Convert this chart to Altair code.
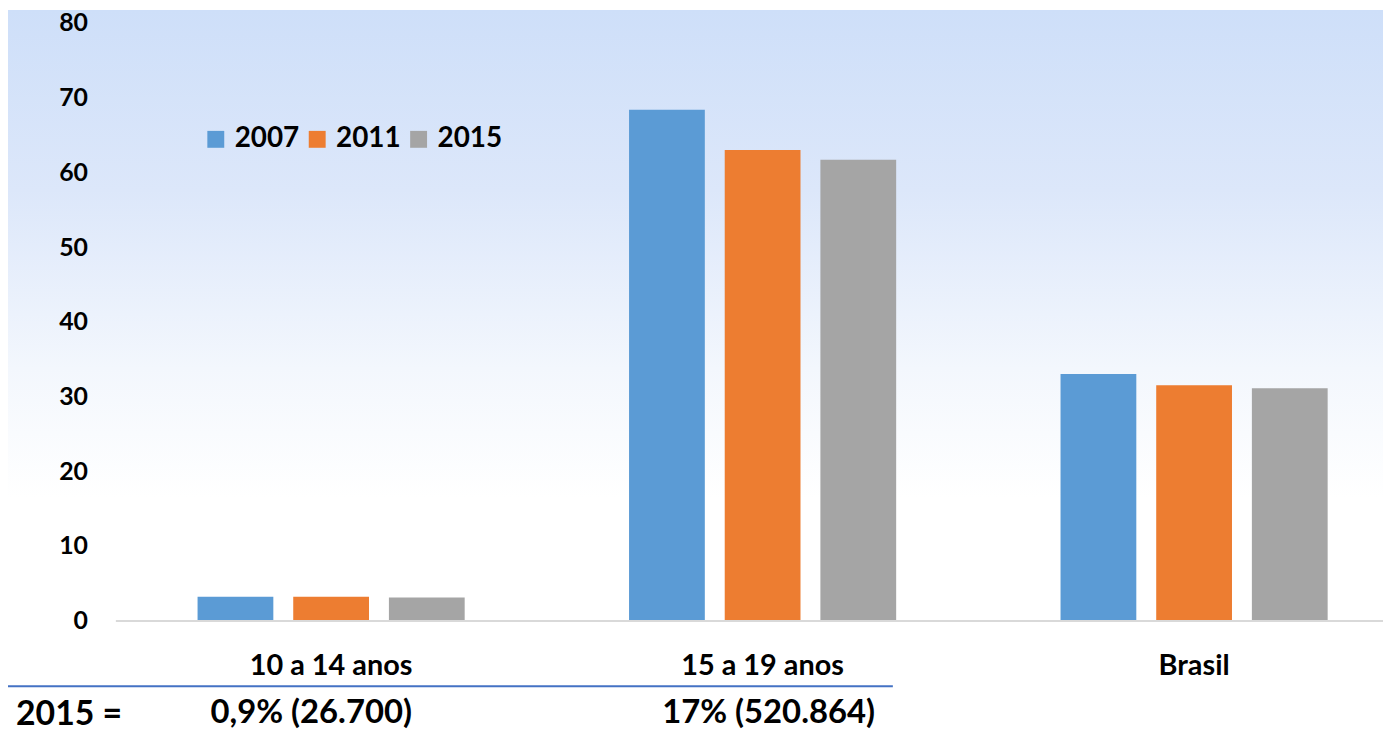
import altair as alt
import pandas as pd

categories = ["10 a 14 anos", "15 a 19 anos", "Brasil"]
years = ["2007", "2011", "2015"]
v2007 = [3.2, 68.4, 33.0]
v2011 = [3.2, 63.0, 31.5]
v2015 = [3.1, 61.7, 31.1]
colors = ["#5B9BD5", "#ED7D31", "#A5A5A5"]
y_ticks = [0, 10, 20, 30, 40, 50, 60, 70, 80]
note_lead = ["2015 ="]
notes_cat = ["10 a 14 anos", "15 a 19 anos"]
notes_text = ["0,9% (26.700)", "17% (520.864)"]

rows = []
for i, c in enumerate(categories):
    for yr, vals in zip(years, [v2007, v2011, v2015]):
        rows.append({"cat": c, "year": yr, "value": vals[i]})
df = pd.DataFrame(rows)

W, H = 1277, 601
PL, PT, PB = 106, 13, 108
FONT = "Lato"

one = pd.DataFrame({"k": [0]})

bg = alt.Chart(one).mark_rect(
    fill={
        "gradient": "linear",
        "x1": 0, "y1": 0, "x2": 0, "y2": 1,
        "stops": [
            {"offset": 0, "color": "#CEDFF9"},
            {"offset": 0.25, "color": "#DCE7FA"},
            {"offset": 0.5, "color": "#F3F7FD"},
            {"offset": 0.68, "color": "#FFFFFF"},
            {"offset": 1, "color": "#FFFFFF"},
        ],
    }
).encode(
    x=alt.value(-PL), x2=alt.value(W + 10),
    y=alt.value(-PT), y2=alt.value(H + PB),
)

xenc = alt.X(
    "cat:N", sort=categories,
    scale=alt.Scale(domain=categories, range=[2, 1304], paddingInner=0, paddingOuter=0),
    axis=alt.Axis(
        title=None, labelAngle=0, labelFont=FONT, labelFontWeight="bold",
        labelFontSize=29, labelColor="black", domainColor="#D9D9D9",
        domainWidth=2, ticks=False, tickSize=0, grid=False,
        labelPadding=45, labelBaseline="middle", zindex=1,
    ),
)

bars = alt.Chart(df).mark_bar().encode(
    x=xenc,
    xOffset=alt.XOffset("year:N", sort=years,
                        scale=alt.Scale(paddingInner=0.208, paddingOuter=0.859)),
    y=alt.Y(
        "value:Q", scale=alt.Scale(domain=[0, 80], nice=False),
        axis=alt.Axis(
            values=y_ticks, title=None, domain=False, ticks=False, grid=False,
            labelFont=FONT, labelFontWeight="bold", labelFontSize=25,
            labelColor="black", labelPadding=26, zindex=1,
        ),
    ),
    color=alt.Color(
        "year:N", sort=years, scale=alt.Scale(domain=years, range=colors),
        legend=alt.Legend(
            title=None, orient="none", legendX=89, legendY=103,
            direction="horizontal", symbolType="square", symbolSize=289,
            symbolStrokeWidth=0, labelFont=FONT, labelFontWeight="bold",
            labelFontSize=28, labelColor="black", columnPadding=4,
            labelOffset=5, padding=0,
        ),
    ),
)

rule = alt.Chart(one).mark_rule(color="#4472C4", strokeWidth=2).encode(
    x=alt.value(-PL - 8), x2=alt.value(784), y=alt.value(667)
)

lead = alt.Chart(pd.DataFrame({"t": note_lead})).mark_text(
    align="left", baseline="middle", font=FONT, fontWeight="bold",
    fontSize=34, color="black"
).encode(x=alt.value(-98), y=alt.value(696), text="t:N")

layers = [bg, bars, rule, lead]
dxs = [-20, 6]
for c, t, dx in zip(notes_cat, notes_text, dxs):
    layers.append(
        alt.Chart(pd.DataFrame({"cat": [c], "t": [t]})).mark_text(
            align="center", baseline="middle", font=FONT, fontWeight="bold",
            fontSize=33, color="black", dx=dx
        ).encode(x=xenc, y=alt.value(694), text="t:N")
    )

chart = alt.layer(*layers).properties(
    width=W, height=H,
    padding={"left": PL, "top": PT, "right": 0, "bottom": PB},
    autosize=alt.AutoSizeParams(type="none"),
).configure_view(stroke=None).configure(background="white")

chart.save("out.html", embed_options={"renderer": "svg", "actions": False})
